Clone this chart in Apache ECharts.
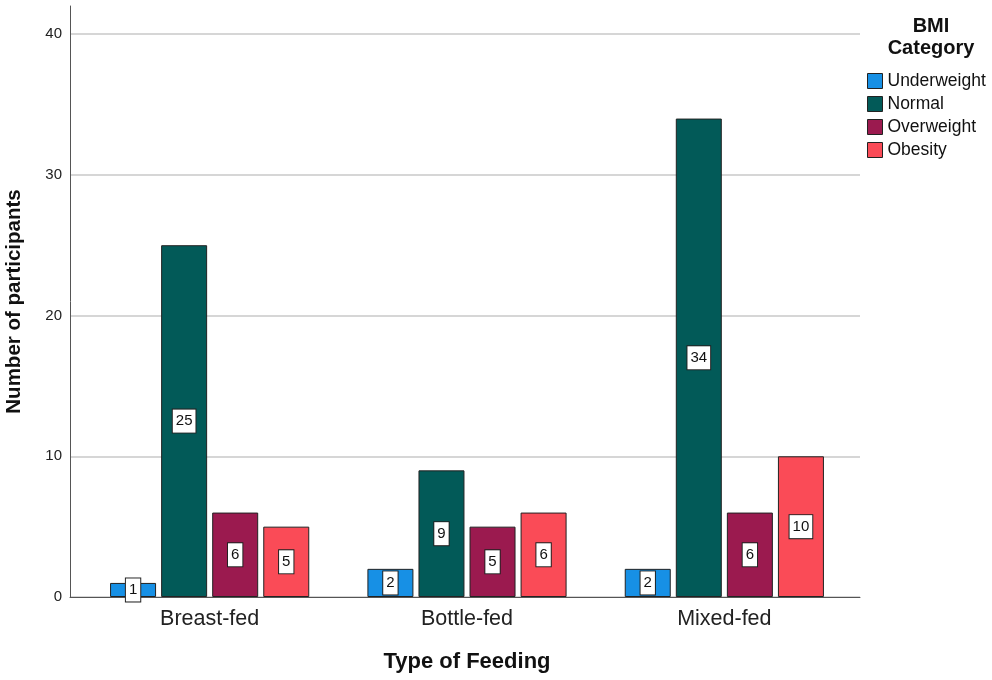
<!DOCTYPE html>
<html><head><meta charset="utf-8">
<script src="https://cdn.jsdelivr.net/npm/echarts@6/dist/echarts.min.js"></script>
<style>html,body{margin:0;padding:0;background:#fff}#c{width:992px;height:680px}</style>
</head><body><div id="c"></div>
<script>
const categories = ['Breast-fed', 'Bottle-fed', 'Mixed-fed'];
const seriesNames = ['Underweight', 'Normal', 'Overweight', 'Obesity'];
const underweight = [1, 2, 2];
const normal = [25, 9, 34];
const overweight = [6, 5, 6];
const obesity = [5, 6, 10];
const yTicks = [0, 10, 20, 30, 40];

const colors = ['#1790E5', '#025A58', '#9B1A4F', '#FA4B57'];
const values = [underweight, normal, overweight, obesity];
const FONT = '"Liberation Sans", Arial, sans-serif';

const chart = echarts.init(document.getElementById('c'));
chart.setOption({
  animation: false,
  textStyle: { fontFamily: FONT },
  title: {
    text: 'BMI\nCategory', left: 931, top: 15, padding: 0, textAlign: 'center',
    textStyle: { fontSize: 20, fontWeight: 'bold', color: '#111', lineHeight: 22, fontFamily: FONT }
  },
  legend: {
    orient: 'vertical', left: 867, top: 72, padding: 0, itemWidth: 15, itemHeight: 15, itemGap: 5,
    icon: 'rect', data: seriesNames,
    itemStyle: { borderColor: '#222', borderWidth: 1 },
    textStyle: { fontSize: 17.5, color: '#111', lineHeight: 15, fontFamily: FONT }
  },
  grid: [
    { left: 70, right: 132, top: 6, bottom: 83, outerBoundsMode: 'none' },
    { left: 81, right: 139, top: 6, bottom: 83, outerBoundsMode: 'none' }
  ],
  xAxis: [
    { type: 'category', gridIndex: 0, data: [''], axisLine: { lineStyle: { color: '#555', width: 1 } },
      axisTick: { show: false }, axisLabel: { show: false } },
    { type: 'category', gridIndex: 1, data: categories,
      axisLine: { show: false }, axisTick: { show: false },
      axisLabel: { fontSize: 21.5, color: '#222', margin: 11, fontFamily: FONT },
      name: 'Type of Feeding', nameLocation: 'middle', nameGap: 54,
      nameTextStyle: { fontSize: 22, fontWeight: 'bold', color: '#111', fontFamily: FONT } }
  ],
  yAxis: [
    { type: 'value', gridIndex: 0, min: 0, max: 42, interval: 10,
      axisLine: { show: true, lineStyle: { color: '#555' } }, axisTick: { show: false },
      axisLabel: { fontSize: 15, color: '#222', margin: 8, fontFamily: FONT,
        formatter: v => yTicks.includes(v) ? String(v) : '' },
      splitLine: { show: true, showMaxLine: false, lineStyle: { color: '#c8c8c8', width: 1.5 } },
      name: 'Number of participants', nameLocation: 'middle', nameGap: 45,
      nameTextStyle: { fontSize: 20.5, fontWeight: 'bold', color: '#111', fontFamily: FONT } },
    { type: 'value', gridIndex: 1, min: 0, max: 42, interval: 10, show: false }
  ],
  series: seriesNames.map((n, i) => ({
    name: n, type: 'bar', xAxisIndex: 1, yAxisIndex: 1, data: values[i],
    barWidth: 46, barGap: '11%',
    itemStyle: { color: colors[i], borderColor: '#222', borderWidth: 1 },
    label: { show: true, position: 'inside', fontSize: 15, color: '#111', fontFamily: FONT,
      backgroundColor: '#fff', borderColor: '#222', borderWidth: 1, padding: [4, 3, 4, 3] }
  }))
});
</script></body></html>
